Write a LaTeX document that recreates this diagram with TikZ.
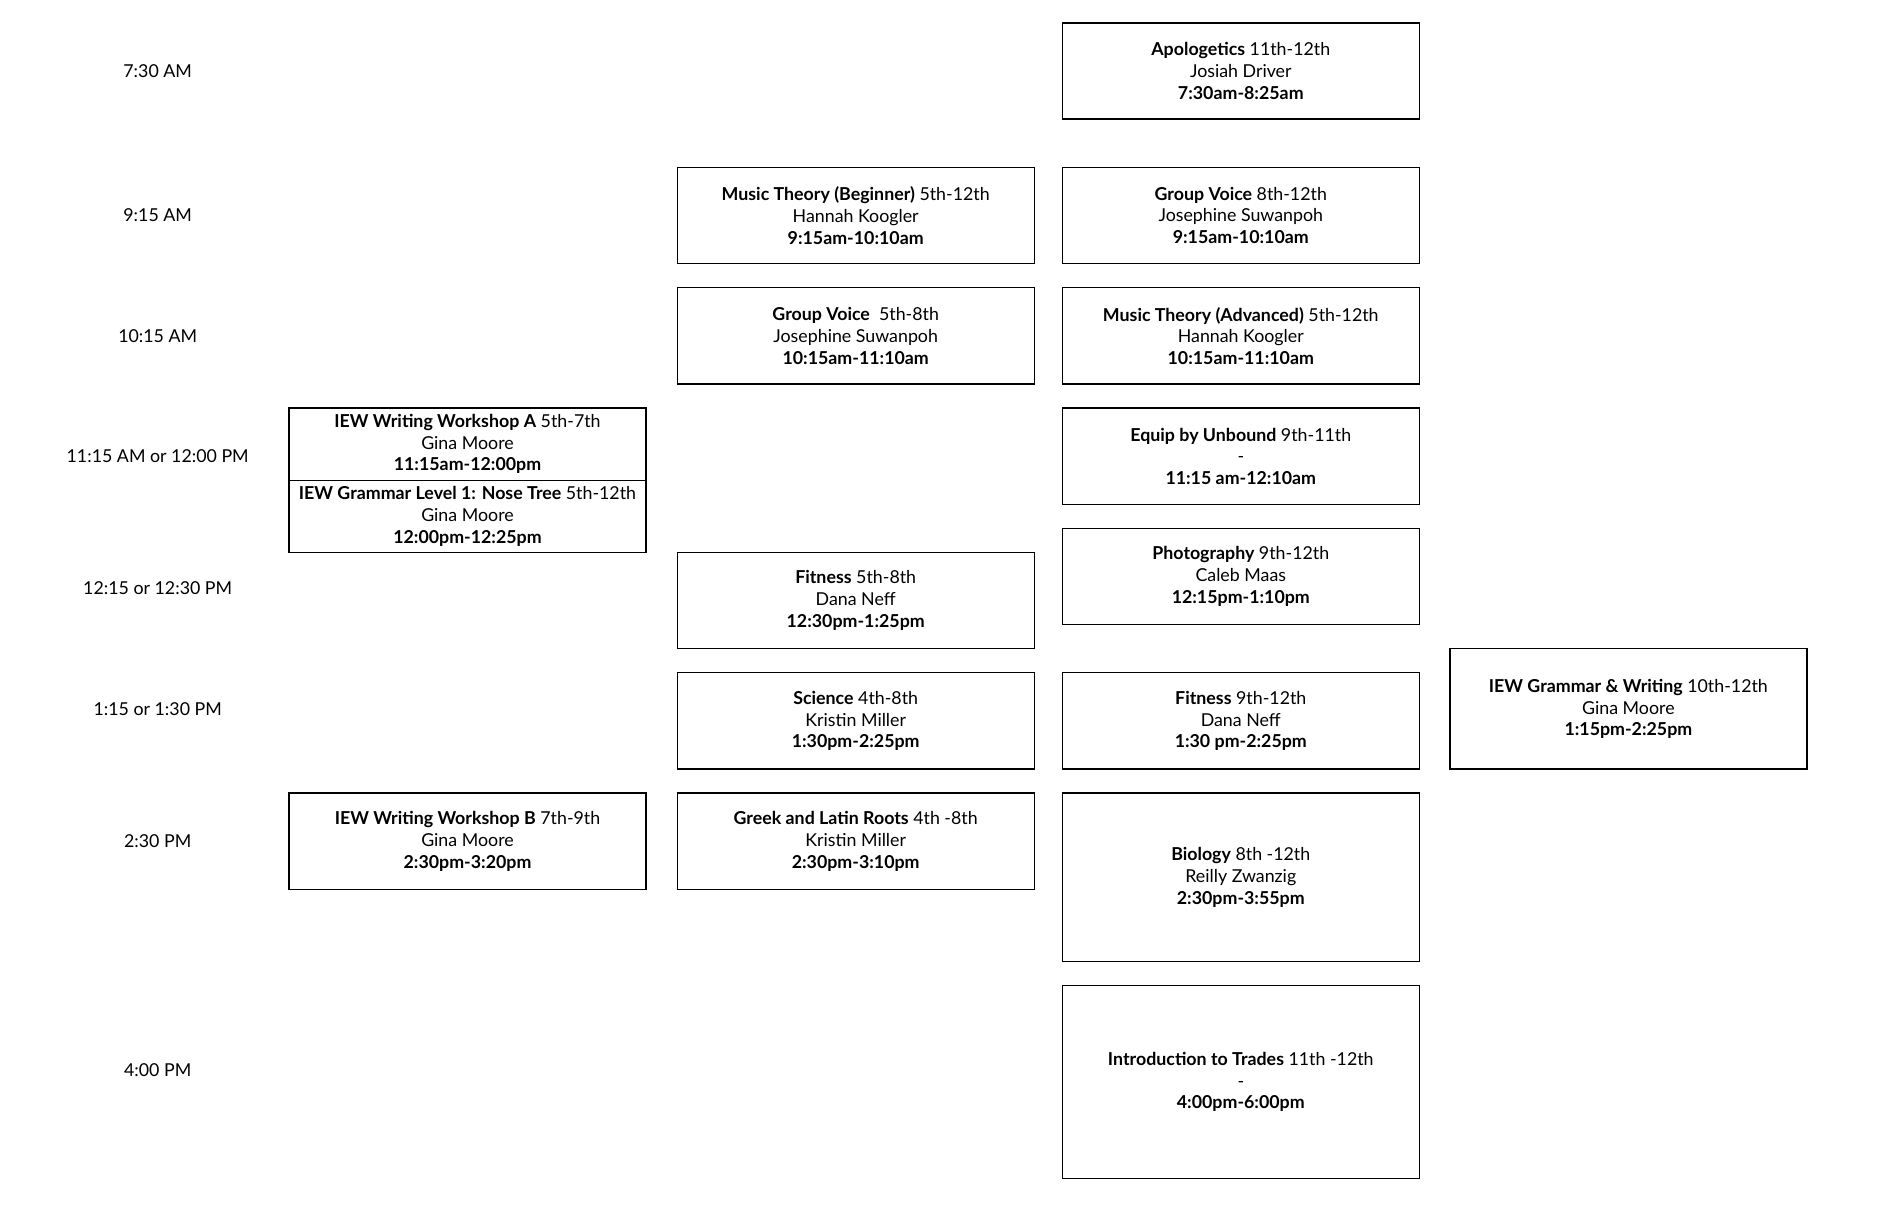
\documentclass[tikz,border=0pt]{standalone}
\usepackage{fontspec}
\setmainfont{Lato}
\begin{document}
\begin{tikzpicture}[x=0.5pt,y=-0.5pt,
  font=\fontsize{8.9}{10.85}\selectfont,
  slot/.style={draw, line width=0.7pt, align=center, inner sep=0pt,
    minimum width=178.5pt, minimum height=48.15pt},
  halfslot/.style={slot, minimum height=36.1pt},
  timelabel/.style={align=center}]
\useasboundingbox (0,0) rectangle (1887,1207);
% times
\node[timelabel] (t0730) at (157.7,71) {7:30 AM};
\node[timelabel] (t0915) at (157.7,215.4) {9:15 AM};
\node[timelabel] (t1015) at (157.7,335.8) {10:15 AM};
\node[timelabel] (t1115) at (157.7,456.1) {11:15 AM or 12:00 PM};
\node[timelabel] (t1215) at (157.7,588.5) {12:15 or 12:30 PM};
\node[timelabel] (t0115) at (157.7,708.9) {1:15 or 1:30 PM};
\node[timelabel] (t0230) at (157.7,841.2) {2:30 PM};
\node[timelabel] (t0400) at (157.7,1069.9) {4:00 PM};

% first column
\node[halfslot] (iewa) at (467.5,444.1) {\textbf{IEW Writing Workshop A} 5th-7th\\Gina Moore\\\textbf{11:15am-12:00pm}};
\node[halfslot] (iewgram) at (467.5,516.3) {\textbf{IEW Grammar Level 1: Nose Tree} 5th-12th\\Gina Moore\\\textbf{12:00pm-12:25pm}};
\node[slot] (iewb) at (467.5,841.2) {\textbf{IEW Writing Workshop B} 7th-9th\\Gina Moore\\\textbf{2:30pm-3:20pm}};

% second column
\node[slot] (mtbeg) at (855.7,215.4) {\textbf{Music Theory (Beginner)} 5th-12th\\Hannah Koogler\\\textbf{9:15am-10:10am}};
\node[slot] (gvyoung) at (855.7,335.8) {\textbf{Group Voice}\ \ 5th-8th\\Josephine Suwanpoh\\\textbf{10:15am-11:10am}};
\node[slot] (fityoung) at (855.7,600.5) {\textbf{Fitness} 5th-8th\\Dana Neff\\\textbf{12:30pm-1:25pm}};
\node[slot] (sci) at (855.7,720.9) {\textbf{Science} 4th-8th\\Kristin Miller\\\textbf{1:30pm-2:25pm}};
\node[slot] (greek) at (855.7,841.2) {\textbf{Greek and Latin Roots} 4th -8th\\Kristin Miller\\\textbf{2:30pm-3:10pm}};

% third column
\node[slot] (apolog) at (1240.8,71) {\textbf{Apologetics} 11th-12th\\Josiah Driver\\\textbf{7:30am-8:25am}};
\node[slot] (gvold) at (1240.8,215.4) {\textbf{Group Voice} 8th-12th\\Josephine Suwanpoh\\\textbf{9:15am-10:10am}};
\node[slot] (mtadv) at (1240.8,335.8) {\textbf{Music Theory (Advanced)} 5th-12th\\Hannah Koogler\\\textbf{10:15am-11:10am}};
\node[slot] (equip) at (1240.8,456.2) {\textbf{Equip by Unbound} 9th-11th\\-\\\textbf{11:15 am-12:10am}};
\node[slot] (photo) at (1240.8,576.4) {\textbf{Photography} 9th-12th\\Caleb Maas\\\textbf{12:15pm-1:10pm}};
\node[slot] (fitold) at (1240.8,720.9) {\textbf{Fitness} 9th-12th\\Dana Neff\\\textbf{1:30 pm-2:25pm}};
\node[slot, minimum height=84.25pt] (bio) at (1240.8,877.3) {\textbf{Biology} 8th -12th\\Reilly Zwanzig\\\textbf{2:30pm-3:55pm}};
\node[slot, minimum height=96.25pt] (trades) at (1240.8,1082) {\textbf{Introduction to Trades} 11th -12th\\-\\\textbf{4:00pm-6:00pm}};

% fourth column
\node[slot, minimum height=60.15pt] (iewgw) at (1628.4,708.9) {\textbf{IEW Grammar \& Writing} 10th-12th\\Gina Moore\\\textbf{1:15pm-2:25pm}};

\end{tikzpicture}
\end{document}
